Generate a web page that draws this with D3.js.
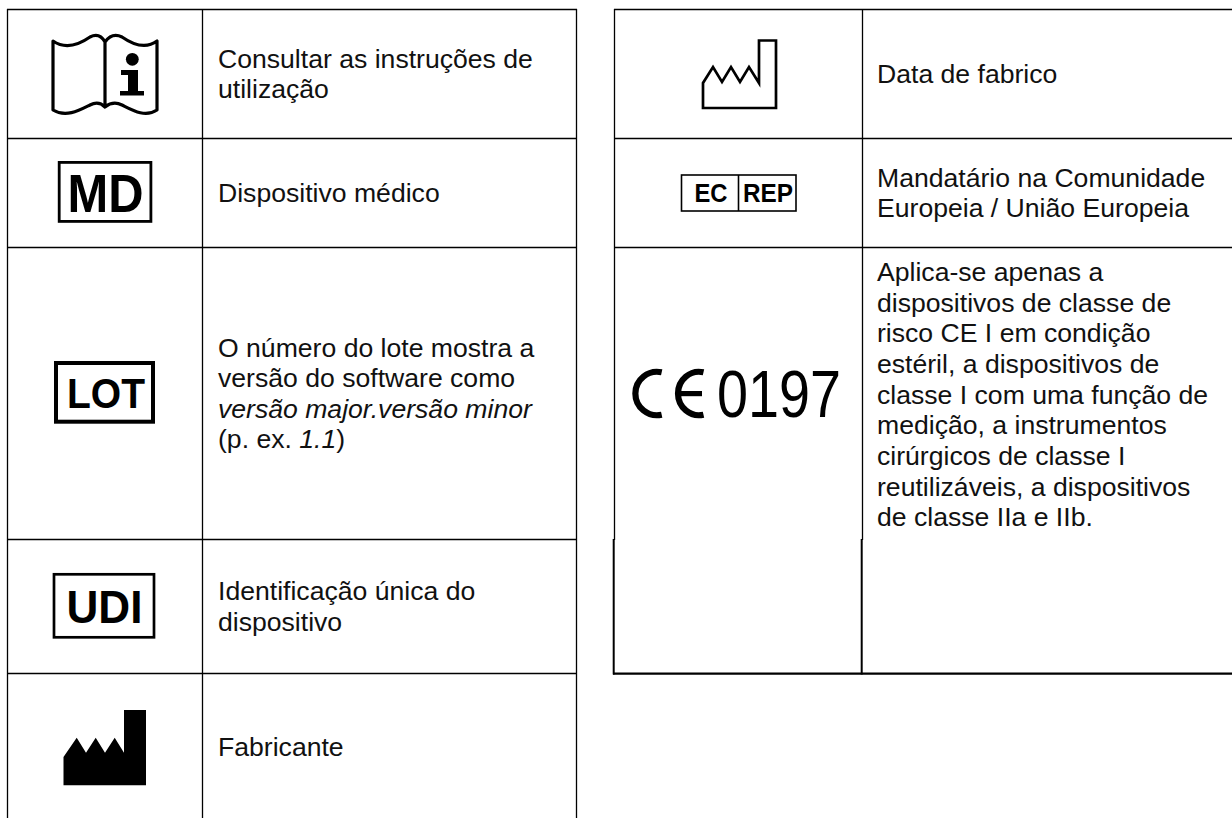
<!DOCTYPE html>
<html><head><meta charset="utf-8"><script src="https://cdn.jsdelivr.net/npm/d3@7"></script>
<style>html,body{margin:0;padding:0;background:#fff}svg{display:block}</style></head><body><div id="c"></div>
<script>
const leftRowEdges=[9,138,247,539,673,819];
const rightRowEdges=[9,138,247,673];
const leftColEdges=[7.5,202.5,576.5];
const rightColEdges=[614.5,862.5];
const leftText=[
 [["Consultar as instruções de"],["utilização"]],
 [["Dispositivo médico"]],
 [["O número do lote mostra a"],["versão do software como"],["*versão major.versão minor"],["(p. ex. ","*1.1",")"]],
 [["Identificação única do"],["dispositivo"]],
 [["Fabricante"]]];
const rightText=[
 [["Data de fabrico"]],
 [["Mandatário na Comunidade"],["Europeia / União Europeia"]],
 [["Aplica-se apenas a"],["dispositivos de classe de"],["risco CE I em condição"],["estéril, a dispositivos de"],["classe I com uma função de"],["medição, a instrumentos"],["cirúrgicos de classe I"],["reutilizáveis, a dispositivos"],["de classe IIa e IIb."]]];
const W=1232,H=819;
const svg=d3.select("#c").append("svg").attr("width",W).attr("height",H);
const F="Liberation Sans";
const line=(x1,y1,x2,y2,w=1.3)=>svg.append("line").attr("x1",x1).attr("y1",y1).attr("x2",x2).attr("y2",y2).attr("stroke","#000").attr("stroke-width",w);
leftRowEdges.slice(0,5).forEach(y=>line(7,y+.5,577,y+.5));
leftColEdges.forEach(x=>line(x,9,x,818));
rightRowEdges.slice(0,3).forEach(y=>line(614,y+.5,W,y+.5));
rightColEdges.forEach(x=>line(x,9,x,540));
line(613.7,539,613.7,674.5,2);line(861.7,539,861.7,674.5,2);line(613,673.7,W,673.7,2.2);
const lh=30.65;
function cellText(x,top,bottom,lines,first){
 const t=svg.append("text").attr("font-family",F).attr("font-size",26.6).attr("fill","#111");
 const y0=first!=null?first:(top+bottom)/2-(lines.length-1)*lh/2+9.5;
 lines.forEach((l,i)=>{
  l.forEach((s,j)=>{
   const it=s[0]==="*";
   const sp=t.append("tspan").text(it?s.slice(1):s).attr("font-style",it?"italic":"normal");
   if(j===0)sp.attr("x",x).attr("y",y0+i*lh);
  });
 });
}
leftText.forEach((l,i)=>cellText(218,leftRowEdges[i],leftRowEdges[i+1],l));
rightText.forEach((l,i)=>cellText(877,rightRowEdges[i],rightRowEdges[i+1],l,i===2?281:null));
function box(x,y,w,h,sw){svg.append("rect").attr("x",x).attr("y",y).attr("width",w).attr("height",h).attr("fill","none").attr("stroke","#000").attr("stroke-width",sw);}
function label(s,x,y,size,len,anchor="middle",weight="bold"){return svg.append("text").text(s).attr("x",x).attr("y",y).attr("font-family",F).attr("font-size",size).attr("font-weight",weight).attr("text-anchor",anchor).attr("fill","#000").attr("textLength",len).attr("lengthAdjust","spacingAndGlyphs");}
// book
svg.append("path").attr("fill","none").attr("stroke","#000").attr("stroke-width",3.2).attr("stroke-linejoin","round")
 .attr("d","M53 41 C66 50 80 44 90 37 C96 34 101 35 105 42 C110 35 116 34 122 37 C132 44 145 50 157 41 V110 C145 118 132 110 122 105 C116 102 110 103 105 107 C101 103 96 102 90 105 C80 110 66 118 53 110 Z M105 42 V107");
svg.append("circle").attr("cx",132.3).attr("cy",59.3).attr("r",6.4);
svg.append("path").attr("d","M121 70 H138 V91 H144 V95.5 H120 V91 H128 V75 H121 Z");
// MD
box(59.2,162.4,91.7,59,2.8);label("MD",105.5,212,54,76);
// LOT
box(56,363,97,58.7,4);label("LOT",106,407.5,43,78);
// UDI
box(54,574.3,100,63,2.7);label("UDI",104.5,623,46,76);
// factory filled
svg.append("path").attr("d","M63.5 785.3 V757 L76.7 737.7 L86 752.7 L95.7 737.7 L105 752.7 L114.7 737.7 L124 752.7 V710 H146 V785.3 Z");
// factory outline
svg.append("path").attr("fill","none").attr("stroke","#000").attr("stroke-width",2.7).attr("d","M703 108 V83 L713 67 L722 82 L731 67 L740 82 L749 67 L759 83 V40.5 H776 V108 Z");
// EC REP
box(681.5,175,114.5,36,1.6);line(738.5,175,738.5,211,1.6);label("EC",711,202,25,33);label("REP",768,202,25,50);
// CE
svg.append("path").attr("fill","none").attr("stroke","#000").attr("stroke-width",6.2).attr("d","M661.7 372.3 A21.7 21.7 0 1 0 661.7 414.7");
svg.append("path").attr("fill","none").attr("stroke","#000").attr("stroke-width",6.2).attr("d","M703.5 372.3 A21 21.7 0 1 0 703.5 414.7");
svg.append("rect").attr("x",680).attr("y",391).attr("width",22).attr("height",5.2);
label("0197",717,416.5,67,124,"start","normal");
</script></body></html>
